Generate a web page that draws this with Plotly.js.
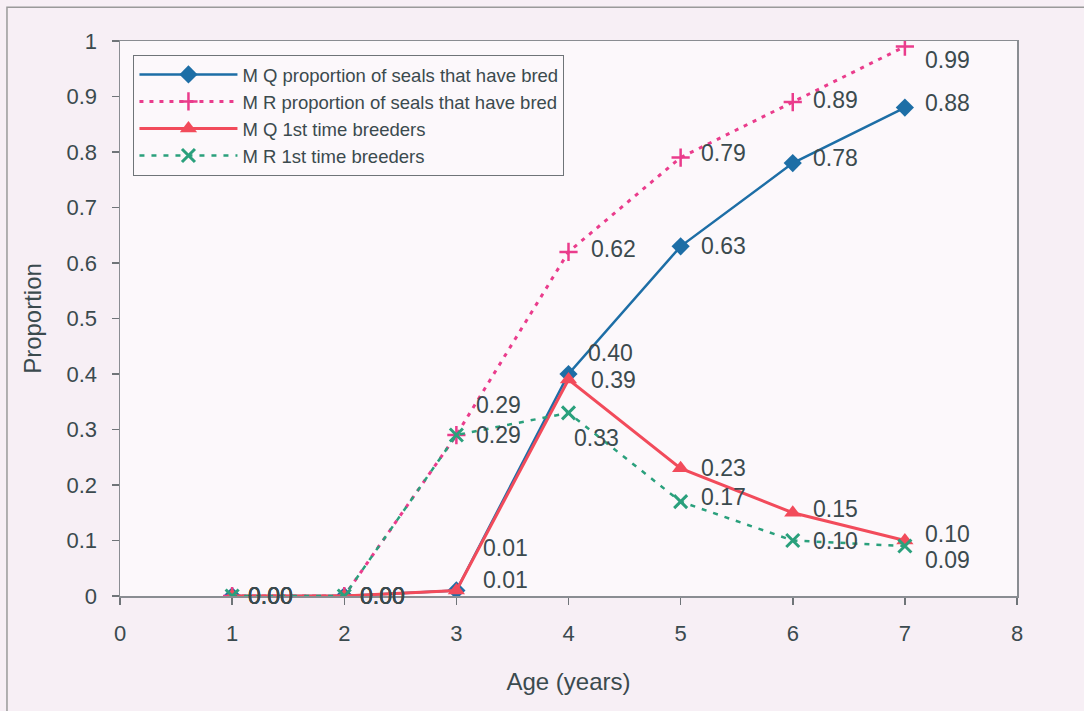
<!DOCTYPE html>
<html>
<head>
<meta charset="utf-8">
<script src="https://cdn.plot.ly/plotly-3.0.1.min.js"></script>
<style>html,body{margin:0;padding:0;background:#f7eff5;}#chart{width:1084px;height:711px;}</style>
</head>
<body>
<div id="chart"></div>
<script>
// ---- data ----
var ages = [1, 2, 3, 4, 5, 6, 7];
var mqBred = [0.00, 0.00, 0.01, 0.40, 0.63, 0.78, 0.88];
var mrBred = [0.00, 0.00, 0.29, 0.62, 0.79, 0.89, 0.99];
var mqFirst = [0.00, 0.00, 0.01, 0.39, 0.23, 0.15, 0.10];
var mrFirst = [0.00, 0.00, 0.29, 0.33, 0.17, 0.10, 0.09];
var seriesNames = [
  "M Q proportion of seals that have bred",
  "M R proportion of seals that have bred",
  "M Q 1st time breeders",
  "M R 1st time breeders"
];
var xTitle = "Age (years)";
var yTitle = "Proportion";

// ---- styles ----
var textColor = "#3b4a4e";
var colors = ["#1d6ea6", "#ea3c8c", "#f24b5b", "#2aa07c"];
var labelYShift = [
  [0, 0, 42, 21, 0, 5, 5],
  [0, 0, 30, 3, 5, 2, -13],
  [0, 0, 10, 0, 0, 4, 7],
  [0, 0, 0, -25, 5, 0, -14]
];
var labelXShift = [
  [14, 14, 25, 17, 18, 18, 18],
  [14, 14, 18, 20, 18, 18, 18],
  [14, 14, 25, 20, 18, 18, 18],
  [14, 14, 18, 3, 18, 18, 18]
];

var allY = [mqBred, mrBred, mqFirst, mrFirst];

var traces = [
  {x: ages, y: mqBred, name: seriesNames[0], mode: "lines+markers",
   line: {color: colors[0], width: 2.5},
   marker: {symbol: "diamond", size: 14, color: colors[0]}},
  {x: ages, y: mrBred, name: seriesNames[1], mode: "lines+markers",
   line: {color: colors[1], width: 3, dash: "4px,6px"},
   marker: {symbol: "cross-thin-open", size: 13, line: {color: colors[1], width: 2.5}}},
  {x: ages, y: mqFirst, name: seriesNames[2], mode: "lines+markers",
   line: {color: colors[2], width: 3},
   marker: {symbol: "triangle-up", size: 15, color: colors[2]}},
  {x: ages, y: mrFirst, name: seriesNames[3], mode: "lines+markers",
   line: {color: colors[3], width: 2.5, dash: "5px,7px"},
   marker: {symbol: "x-thin-open", size: 13, line: {color: colors[3], width: 3}}}
];

var annotations = [];
allY.forEach(function (ys, s) {
  ys.forEach(function (v, i) {
    annotations.push({
      x: ages[i], y: v, xref: "x", yref: "y",
      text: v.toFixed(2), showarrow: false,
      xanchor: "left", yanchor: "middle",
      xshift: labelXShift[s][i], yshift: labelYShift[s][i],
      font: {family: "Liberation Sans, Arial, sans-serif", size: 23, color: textColor}
    });
  });
});

var layout = {
  width: 1084, height: 711,
  margin: {l: 120, r: 67, t: 41, b: 115},
  paper_bgcolor: "#f7eff5",
  plot_bgcolor: "#fcf8fb",
  font: {family: "Liberation Sans, Arial, sans-serif", color: textColor, size: 20},
  showlegend: true,
  legend: {
    x: 0.015, y: 0.975, xanchor: "left", yanchor: "top",
    bgcolor: "#fcf8fb", bordercolor: "#6f7478", borderwidth: 1,
    font: {size: 18.5, color: "#3b4a4e"},
    tracegroupgap: 0, itemwidth: 98
  },
  xaxis: {
    range: [0, 8], dtick: 1, tick0: 0,
    showgrid: false, zeroline: false,
    showline: true, linecolor: "#8a8d92", linewidth: 1.5, mirror: true,
    ticks: "outside", ticklen: 7, tickcolor: "#6f7478", tickwidth: 1.5,
    ticklabelstandoff: 10,
    tickfont: {size: 22, color: textColor},
    title: {text: xTitle, font: {size: 24, color: textColor}, standoff: 28}
  },
  yaxis: {
    range: [0, 1], dtick: 0.1, tick0: 0,
    showgrid: false, zeroline: false,
    showline: true, linecolor: "#8a8d92", linewidth: 1.5, mirror: true,
    ticks: "outside", ticklen: 7, tickcolor: "#6f7478", tickwidth: 1.5,
    ticklabelstandoff: 10,
    tickfont: {size: 22, color: textColor},
    title: {text: yTitle, font: {size: 24, color: textColor}, standoff: 18}
  },
  annotations: annotations,
  shapes: [{
    type: "rect", xref: "paper", yref: "paper",
    x0: -0.126, x1: 1.3, y0: -0.4, y1: 1.061,
    line: {color: "#9a9a9a", width: 1.5}, fillcolor: "rgba(0,0,0,0)", layer: "below"
  }]
};

Plotly.newPlot("chart", traces, layout, {displayModeBar: false, staticPlot: true});
</script>
</body>
</html>
